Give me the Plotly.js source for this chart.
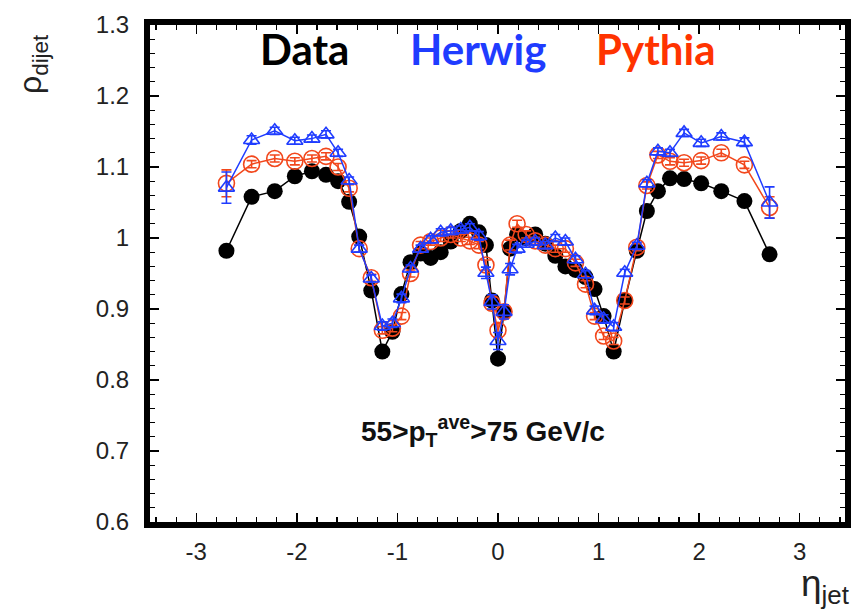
<!DOCTYPE html>
<html>
<head>
<meta charset="utf-8">
<script src="https://cdn.plot.ly/plotly-3.0.1.min.js"></script>
<style>html,body{margin:0;padding:0;background:#fff;}#chart{width:853px;height:613px;}</style>
</head>
<body>
<div id="chart"></div>
<script>
const eta = [-2.70, -2.45, -2.22, -2.02, -1.85, -1.71, -1.59, -1.48, -1.38, -1.26, -1.15, -1.05, -0.96, -0.87, -0.77, -0.67, -0.57, -0.47, -0.37, -0.28, -0.19, -0.12, -0.06, 0.00, 0.06, 0.12, 0.19, 0.28, 0.37, 0.47, 0.57, 0.67, 0.77, 0.87, 0.96, 1.05, 1.15, 1.26, 1.38, 1.48, 1.59, 1.71, 1.85, 2.02, 2.22, 2.45, 2.70];

const dataVals = [0.982, 1.058, 1.066, 1.087, 1.094, 1.089, 1.080, 1.051, 1.002, 0.926, 0.840, 0.868, 0.921, 0.966, 0.978, 0.972, 0.980, 0.995, 1.010, 1.020, 1.008, 0.990, 0.912, 0.830, 0.896, 0.985, 1.005, 1.000, 1.005, 0.992, 0.975, 0.960, 0.955, 0.945, 0.928, 0.890, 0.840, 0.912, 0.982, 1.038, 1.066, 1.084, 1.083, 1.077, 1.066, 1.052, 0.977];

const herwigVals = [1.071, 1.138, 1.151, 1.137, 1.140, 1.146, 1.120, 1.081, 0.985, 0.943, 0.876, 0.880, 0.915, 0.957, 0.985, 0.998, 1.008, 1.010, 1.012, 1.015, 1.003, 0.951, 0.910, 0.855, 0.896, 0.956, 0.985, 0.992, 0.995, 0.990, 1.000, 0.995, 0.970, 0.949, 0.898, 0.886, 0.875, 0.951, 0.989, 1.077, 1.122, 1.120, 1.148, 1.134, 1.143, 1.135, 1.050];
const herwigErr = [0.022, 0.006, 0.005, 0.005, 0.005, 0.005, 0.005, 0.005, 0.005, 0.005, 0.006, 0.006, 0.006, 0.005, 0.005, 0.005, 0.005, 0.005, 0.005, 0.005, 0.006, 0.008, 0.010, 0.012, 0.010, 0.008, 0.006, 0.005, 0.005, 0.005, 0.005, 0.005, 0.005, 0.005, 0.006, 0.006, 0.006, 0.005, 0.005, 0.005, 0.005, 0.005, 0.005, 0.005, 0.005, 0.006, 0.022];

const pythiaVals = [1.077, 1.104, 1.112, 1.108, 1.112, 1.115, 1.100, 1.070, 0.985, 0.944, 0.870, 0.873, 0.890, 0.950, 0.990, 0.995, 1.000, 1.005, 1.000, 0.996, 0.990, 0.962, 0.908, 0.870, 0.896, 0.990, 1.020, 1.005, 0.996, 0.990, 0.985, 0.985, 0.965, 0.935, 0.890, 0.862, 0.855, 0.912, 0.987, 1.074, 1.117, 1.108, 1.106, 1.109, 1.120, 1.103, 1.043];
const pythiaErr = [0.019, 0.005, 0.005, 0.005, 0.005, 0.005, 0.005, 0.005, 0.005, 0.005, 0.005, 0.005, 0.005, 0.005, 0.005, 0.005, 0.005, 0.005, 0.005, 0.005, 0.005, 0.007, 0.009, 0.010, 0.009, 0.007, 0.005, 0.005, 0.005, 0.005, 0.005, 0.005, 0.005, 0.005, 0.005, 0.005, 0.005, 0.005, 0.005, 0.005, 0.005, 0.005, 0.005, 0.005, 0.005, 0.005, 0.015];

const xTickVals = [-3, -2, -1, 0, 1, 2, 3];
const xTickText = ['-3', '-2', '-1', '0', '1', '2', '3'];
const yTickVals = [0.6, 0.7, 0.8, 0.9, 1.0, 1.1, 1.2, 1.3];
const yTickText = ['0.6', '0.7', '0.8', '0.9', '1', '1.1', '1.2', '1.3'];

const BLUE = '#1f3cff';
const RED = '#f2471c';

const traces = [
  {
    x: eta, y: dataVals, type: 'scatter', mode: 'lines+markers', name: 'Data',
    line: {color: '#000', width: 1.5},
    marker: {symbol: 'circle', size: 16, color: '#000'}
  },
  {
    x: eta, y: pythiaVals, type: 'scatter', mode: 'lines+markers', name: 'Pythia',
    line: {color: RED, width: 1.5},
    marker: {symbol: 'circle-open', size: 16, color: RED, line: {width: 1.6, color: RED}},
    error_y: {type: 'data', array: pythiaErr, visible: true, color: RED, thickness: 1.6, width: 5}
  },
  {
    x: eta, y: herwigVals, type: 'scatter', mode: 'lines+markers', name: 'Herwig',
    line: {color: BLUE, width: 1.5},
    marker: {symbol: 'triangle-up-open', size: 14, color: BLUE, line: {width: 1.6, color: BLUE}},
    error_y: {type: 'data', array: herwigErr, visible: true, color: BLUE, thickness: 1.6, width: 5}
  }
];

const axisFont = {family: 'Liberation Sans, Arial, sans-serif', size: 24, color: '#222'};

const layout = {
  width: 853, height: 613,
  margin: {l: 150, r: 8, t: 25, b: 91},
  paper_bgcolor: '#fff', plot_bgcolor: '#fff',
  showlegend: false,
  xaxis: {
    range: [-3.46, 3.45],
    tickmode: 'array', tickvals: xTickVals, ticktext: xTickText,
    ticks: 'inside', ticklen: 9, tickwidth: 1.5, tickcolor: '#000',
    minor: {dtick: 0.2, tick0: 0, ticks: 'inside', ticklen: 5, tickwidth: 1.2, tickcolor: '#000', showgrid: false},
    showline: true, linewidth: 6, linecolor: '#000', mirror: 'allticks',
    showgrid: false, zeroline: false,
    tickfont: axisFont, ticklabelstandoff: 3
  },
  yaxis: {
    range: [0.6, 1.3],
    tickmode: 'array', tickvals: yTickVals, ticktext: yTickText,
    ticks: 'inside', ticklen: 9, tickwidth: 1.5, tickcolor: '#000',
    minor: {dtick: 0.02, tick0: 0.6, ticks: 'inside', ticklen: 5, tickwidth: 1.2, tickcolor: '#000', showgrid: false},
    showline: true, linewidth: 6, linecolor: '#000', mirror: 'allticks',
    showgrid: false, zeroline: false,
    tickfont: axisFont, ticklabelstandoff: 10
  },
  annotations: [
    {xref: 'paper', yref: 'paper', x: 0.223, y: 0.952, xanchor: 'center', yanchor: 'middle',
     text: '<b>Data</b>', showarrow: false,
     font: {family: 'Lato, Open Sans, sans-serif', size: 42, color: '#000'}},
    {xref: 'paper', yref: 'paper', x: 0.472, y: 0.952, xanchor: 'center', yanchor: 'middle',
     text: '<b>Herwig</b>', showarrow: false,
     font: {family: 'Lato, Open Sans, sans-serif', size: 42, color: BLUE}},
    {xref: 'paper', yref: 'paper', x: 0.728, y: 0.952, xanchor: 'center', yanchor: 'middle',
     text: '<b>Pythia</b>', showarrow: false,
     font: {family: 'Lato, Open Sans, sans-serif', size: 42, color: '#ff3300'}},
    {xref: 'paper', yref: 'paper', x: 0.479, y: 0.183, xanchor: 'center', yanchor: 'middle',
     text: '<b>55>p<sub>T</sub><sup>ave</sup>>75 GeV/c</b>', showarrow: false,
     font: {family: 'Liberation Sans, Arial, sans-serif', size: 28, color: '#111'}},
    {xref: 'paper', yref: 'paper', x: -0.168, y: 0.922, xanchor: 'center', yanchor: 'middle', textangle: -90,
     text: 'ρ<sub>dijet</sub>', showarrow: false,
     font: {family: 'Liberation Sans, Arial, sans-serif', size: 32, color: '#222'}},
    {xref: 'paper', yref: 'paper', x: 1.008, y: -0.128, xanchor: 'right', yanchor: 'middle',
     text: 'η<sub>jet</sub>', showarrow: false,
     font: {family: 'Liberation Sans, Arial, sans-serif', size: 37, color: '#222'}}
  ]
};

Plotly.newPlot('chart', traces, layout, {staticPlot: true, displayModeBar: false});
</script>
</body>
</html>
